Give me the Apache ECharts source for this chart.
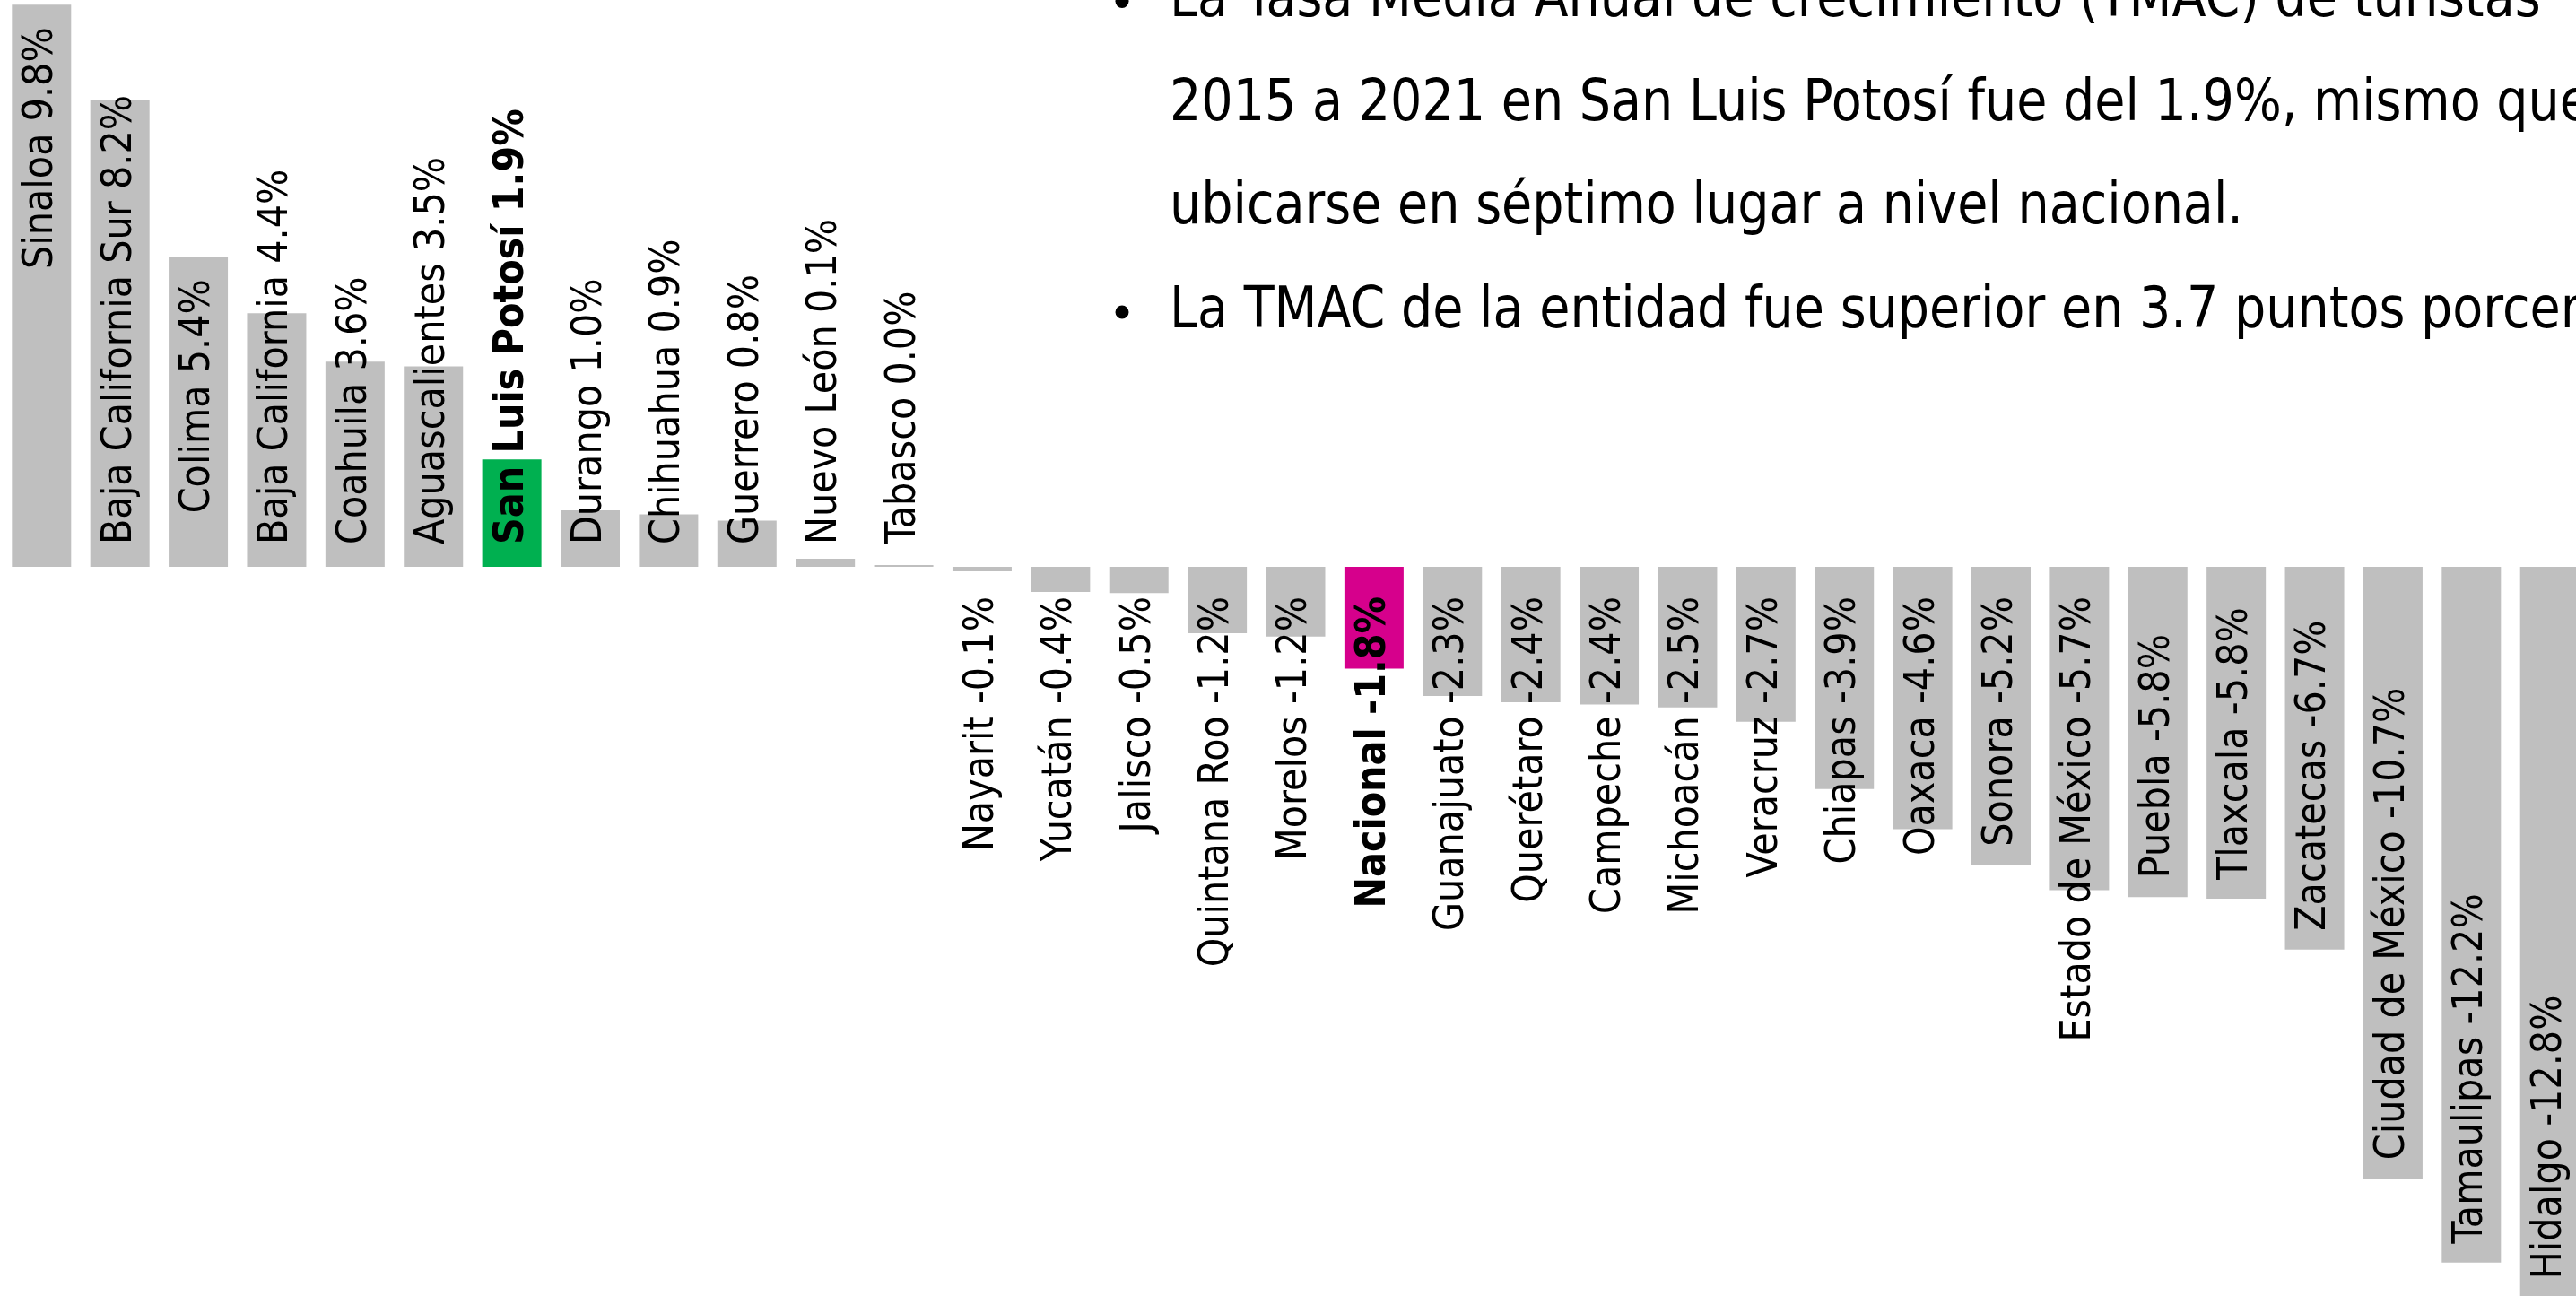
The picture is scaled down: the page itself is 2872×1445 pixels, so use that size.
<!DOCTYPE html>
<html>
<head>
<meta charset="utf-8">
<title>TMAC turistas 2015-2021</title>
<script src="https://cdn.jsdelivr.net/npm/echarts@6/dist/echarts.min.js"></script>
<style>
html,body{margin:0;padding:0;background:#fff;}
#chart{width:2872px;height:1445px;}
</style>
</head>
<body>
<div id="chart"></div>
<script type="text/javascript">
// datos: TMAC de turistas 2015-2021 por entidad (%)
var estados = ['Sinaloa', 'Baja California Sur', 'Colima', 'Baja California', 'Coahuila', 'Aguascalientes',
	'San Luis Potosí', 'Durango', 'Chihuahua', 'Guerrero', 'Nuevo León', 'Tabasco', 'Nayarit', 'Yucatán',
	'Jalisco', 'Quintana Roo', 'Morelos', 'Nacional', 'Guanajuato', 'Querétaro', 'Campeche', 'Michoacán',
	'Veracruz', 'Chiapas', 'Oaxaca', 'Sonora', 'Estado de México', 'Puebla', 'Tlaxcala', 'Zacatecas',
	'Ciudad de México', 'Tamaulipas', 'Hidalgo'];
var tmac = [9.84, 8.18, 5.43, 4.44, 3.59, 3.51, 1.88, 0.99, 0.92, 0.81, 0.14, 0.03, -0.08, -0.44,
	-0.46, -1.16, -1.22, -1.78, -2.26, -2.37, -2.41, -2.46, -2.71, -3.89, -4.59, -5.22, -5.66, -5.78,
	-5.81, -6.70, -10.71, -12.18, -12.8];

// barras resaltadas
var resaltados = {'San Luis Potosí': '#00b050', 'Nacional': '#d6008c'};
// etiquetas que van pegadas al extremo de la barra y no a la base
var alExtremo = ['Sinaloa', 'Colima', 'Puebla', 'Tlaxcala', 'Zacatecas', 'Ciudad de México', 'Tamaulipas', 'Hidalgo'];

var lineas = [
	'La Tasa Media Anual de crecimiento (TMAC) de turistas',
	'2015 a 2021 en San Luis Potosí fue del 1.9%, mismo que',
	'ubicarse en séptimo lugar a nivel nacional.',
	'La TMAC de la entidad fue superior en 3.7 puntos porcentuales'
];
var conVineta = [true, false, false, true];

var fuente = "'DejaVu Sans Condensed', 'Liberation Sans', sans-serif";

var datos = [];
for (var i = 0; i < estados.length; i++) {
	var nombre = estados[i], v = tmac[i];
	var extremo = alExtremo.indexOf(nombre) >= 0;
	var pos, align, dist;
	if (v >= 0) {
		pos = extremo ? 'insideTop' : 'insideBottom';
		align = extremo ? 'right' : 'left';
		dist = 25;
	} else {
		pos = extremo ? 'insideBottom' : 'insideTop';
		align = extremo ? 'left' : 'right';
		dist = extremo ? 21 : 33;
	}
	datos.push({
		value: v,
		itemStyle: {color: resaltados[nombre] || '#bfbfbf'},
		label: {
			position: pos,
			align: align,
			distance: dist,
			fontWeight: resaltados[nombre] ? 'bold' : 'normal'
		}
	});
}

var graficos = [];
for (var j = 0; j < lineas.length; j++) {
	var yCentro = 1.5 + j * 115.5;
	graficos.push({
		type: 'text',
		x: 1304,
		y: yCentro,
		scaleX: 0.86,
		style: {
			text: lineas[j],
			fill: '#000',
			fontSize: 64.6,
			fontFamily: 'DejaVu Sans',
			align: 'left',
			verticalAlign: 'middle'
		}
	});
	if (conVineta[j]) {
		graficos.push({
			type: 'circle',
			shape: {cx: 1251, cy: yCentro, r: 7.5},
			style: {fill: '#000'}
		});
	}
}

var myChart = echarts.init(document.getElementById('chart'));
var option = {
	animation: false,
	backgroundColor: '#fff',
	grid: {
		left: 2.6,
		top: 1.4,
		width: 2883.8,
		height: 1458.7,
		outerBoundsMode: 'none'
	},
	xAxis: {
		type: 'category',
		data: estados,
		show: false
	},
	yAxis: {
		type: 'value',
		min: -13,
		max: 9.9,
		show: false,
		splitLine: {show: false}
	},
	graphic: graficos,
	series: [
		{
			type: 'bar',
			barWidth: 66,
			data: datos,
			label: {
				show: true,
				rotate: 90,
				verticalAlign: 'middle',
				color: '#000',
				fontSize: 46,
				fontFamily: fuente,
				textBorderWidth: 0,
				formatter: function (p) {
					return p.name + ' ' + p.value.toFixed(1) + '%';
				}
			}
		}
	]
};
myChart.setOption(option);
</script>
</body>
</html>
